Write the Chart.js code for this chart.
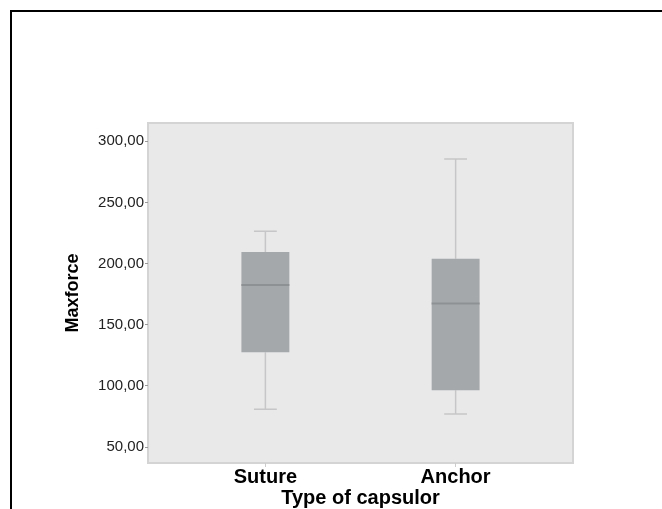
<!DOCTYPE html>
<html>
<head>
<meta charset="utf-8">
<script src="https://cdn.jsdelivr.net/npm/chart.js@4"></script>
<style>
  body { margin: 0; background: #fff; }
  #wrap { position: relative; width: 662px; height: 509px; }
  #frame { position: absolute; left: 10px; top: 10px; width: 652px; height: 499px;
           border-top: 2px solid #000; border-left: 2px solid #000; box-sizing: border-box; }
  canvas { position: absolute; left: 0; top: 0; }
</style>
</head>
<body>
<div id="wrap">
  <div id="frame"></div>
  <canvas id="myChart" width="662" height="509"></canvas>
</div>
<script>
// box plot values
var categories = ['Suture', 'Anchor'];
var whiskerLow = [81, 77];
var q1 = [127.5, 96.5];
var median = [182.5, 167.5];
var q3 = [209.5, 204];
var whiskerHigh = [226.5, 285.5];
var yTicks = [50, 100, 150, 200, 250, 300];

var boxHalf = 0.126;   // half box width in x units (matches barPercentage below)
var capHalf = 0.06;

var boxData = [], medianData = [], whiskerData = [], capData = [];
categories.forEach(function (c, i) {
  var x = i + 1;
  boxData.push({x: x, y: [q1[i], q3[i]]});
  medianData.push({x: x - boxHalf, y: median[i]}, {x: x + boxHalf, y: median[i]}, {x: x, y: null});
  whiskerData.push({x: x, y: q3[i]}, {x: x, y: whiskerHigh[i]}, {x: x, y: null});
  whiskerData.push({x: x, y: q1[i]}, {x: x, y: whiskerLow[i]}, {x: x, y: null});
  capData.push({x: x - capHalf, y: whiskerHigh[i]}, {x: x + capHalf, y: whiskerHigh[i]}, {x: x, y: null});
  capData.push({x: x - capHalf, y: whiskerLow[i]}, {x: x + capHalf, y: whiskerLow[i]}, {x: x, y: null});
});

var plotBg = {
  id: 'plotBg',
  beforeDraw: function (chart) {
    var a = chart.chartArea, ctx = chart.ctx;
    ctx.save();
    ctx.fillStyle = '#e9e9e9';
    ctx.fillRect(a.left, a.top, a.right - a.left, a.bottom - a.top);
    ctx.strokeStyle = '#d4d4d4';
    ctx.lineWidth = 2;
    ctx.strokeRect(a.left, a.top, a.right - a.left, a.bottom - a.top);
    ctx.restore();
  }
};

var lineDs = function (data, color, width, order) {
  return {type: 'line', data: data, borderColor: color, borderWidth: width,
          pointRadius: 0, spanGaps: false, fill: false, order: order};
};

var ctx = document.getElementById('myChart').getContext('2d');
var myChart = new Chart(ctx, {
  type: 'bar',
  data: {
    datasets: [
      {data: boxData, backgroundColor: '#a5a8ab', borderWidth: 0,
       categoryPercentage: 1, barPercentage: 0.252, order: 2},
      lineDs(medianData, '#8e9194', 2, 0),
      lineDs(whiskerData, '#c6c6c8', 1.5, 3),
      lineDs(capData, '#c6c6c8', 1.5, 3)
    ]
  },
  options: {
    responsive: false,
    animation: false,
    plugins: {legend: {display: false}, tooltip: {enabled: false}},
    layout: {padding: {left: 62, top: 123, right: 89, bottom: 1}},
    scales: {
      x: {
        type: 'linear', min: 0.383, max: 2.617, offset: false,
        afterFit: function (s) { s.height = 45; },
        border: {display: false},
        grid: {offset: false, drawOnChartArea: false, tickLength: 4, tickColor: '#cccccc'},
        ticks: {
          stepSize: 1, includeBounds: false, padding: 0, maxRotation: 0,
          color: '#000', font: {family: 'Liberation Sans', size: 20, weight: 'bold', lineHeight: 1},
          callback: function (v) { return categories[v - 1] || ''; }
        },
        title: {display: true, text: 'Type of capsulor', color: '#000', padding: 0,
                font: {family: 'Liberation Sans', size: 20, weight: 'bold', lineHeight: 1}}
      },
      y: {
        min: 37, max: 315,
        afterFit: function (s) { s.width = 86; },
        afterBuildTicks: function (s) { s.ticks = yTicks.map(function (v) { return {value: v}; }); },
        border: {display: false},
        grid: {drawOnChartArea: false, tickLength: 3, tickColor: '#999999'},
        ticks: {
          padding: 1, color: '#222',
          font: {family: 'Liberation Sans', size: 15},
          callback: function (v) { return v.toFixed(2).replace('.', ','); }
        },
        title: {display: true, text: 'Maxforce', color: '#000', padding: 0,
                font: {family: 'Liberation Sans', size: 18, weight: 'bold'}}
      }
    }
  },
  plugins: [plotBg]
});
</script>
</body>
</html>
